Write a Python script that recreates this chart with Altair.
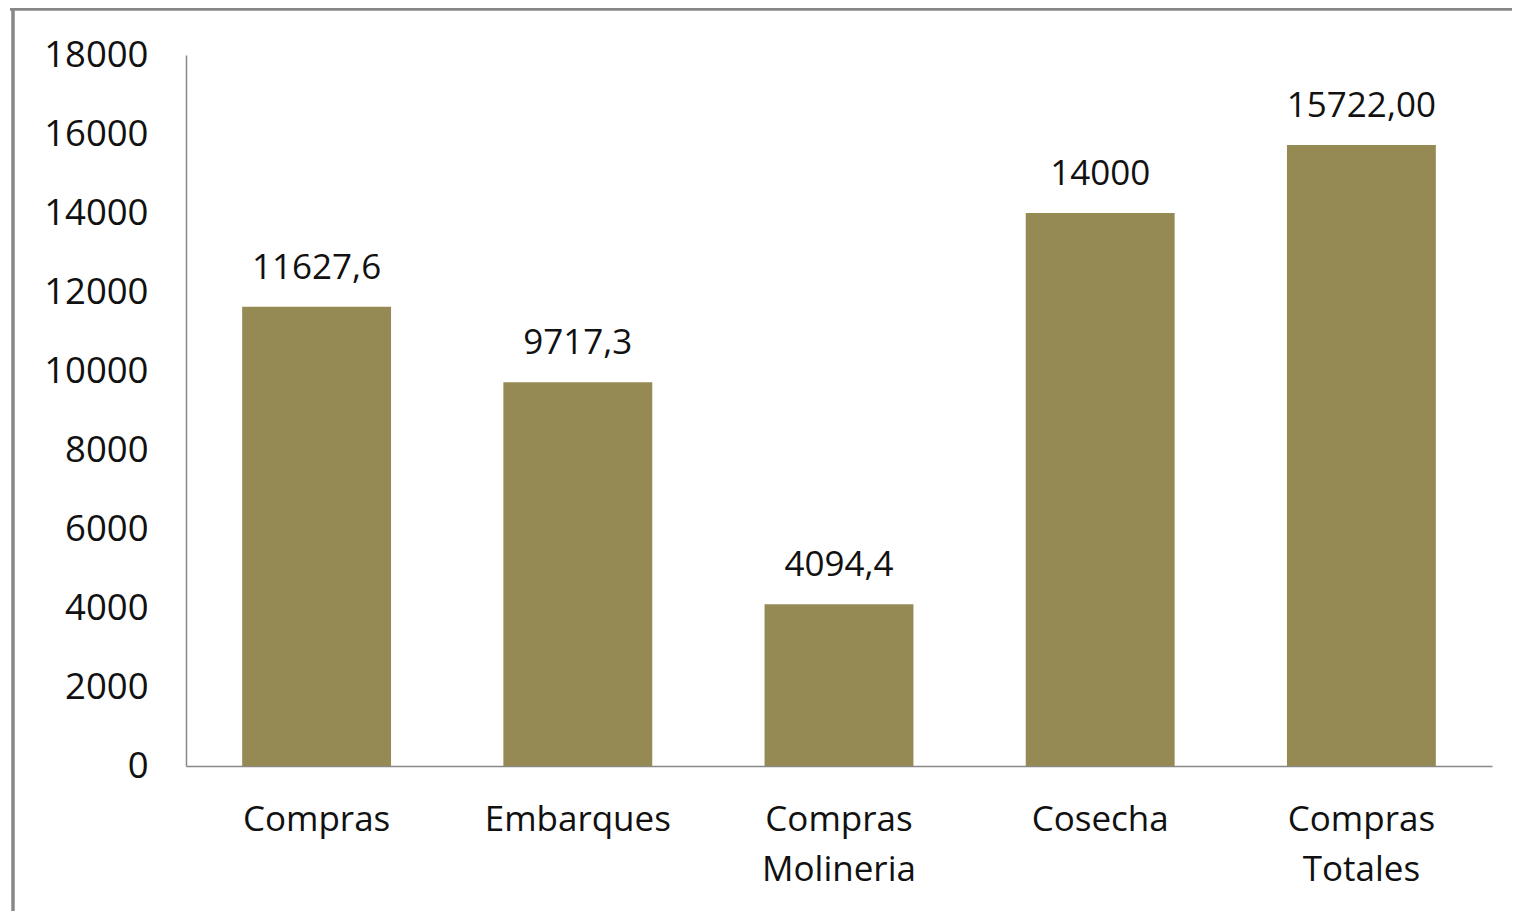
import altair as alt
import pandas as pd

categories = ["Compras", "Embarques", "Compras\nMolineria", "Cosecha", "Compras\nTotales"]
values = [11627.6, 9717.3, 4094.4, 14000, 15722.0]
value_labels = ["11627,6", "9717,3", "4094,4", "14000", "15722,00"]
y_ticks = [0, 2000, 4000, 6000, 8000, 10000, 12000, 14000, 16000, 18000]

df = pd.DataFrame({"cat": categories, "val": values, "lab": value_labels})

FONT = "Open Sans"
TEXT = "#111111"
BAR = "#968A54"
GRAY = "#888888"

x_enc = alt.X(
    "cat:N", sort=categories, title=None,
    scale=alt.Scale(paddingInner=0.43, paddingOuter=0.215),
    axis=alt.Axis(labelAngle=0, labelFont=FONT, labelFontSize=35, labelColor=TEXT,
                  labelExpr="split(datum.label, '\\n')", labelLineHeight=50,
                  labelPadding=36, labelLimit=400, ticks=False, domainColor=GRAY,
                  domainWidth=1.5, labelBaseline="top"),
)
y_enc = alt.Y(
    "val:Q", title=None,
    scale=alt.Scale(domain=[0, 18000], nice=False),
    axis=alt.Axis(values=y_ticks, format="d", labelFont=FONT, labelFontSize=36.5,
                  labelColor=TEXT, ticks=False, grid=False, domainColor=GRAY,
                  domainWidth=1.5, labelPadding=38),
)

bars = alt.Chart(df).mark_bar(color=BAR).encode(x=x_enc, y=y_enc)
texts = alt.Chart(df).mark_text(font=FONT, fontSize=35, color=TEXT, baseline="alphabetic", dy=-28).encode(
    x=alt.X("cat:N", sort=categories), y="val:Q", text="lab:N"
)

frame_df = pd.DataFrame({"k": [0]})
top_line = alt.Chart(frame_df).mark_rule(color=GRAY, strokeWidth=3.5).encode(
    x=alt.value(-176), x2=alt.value(1400), y=alt.value(-46)
)
left_line = alt.Chart(frame_df).mark_rule(color=GRAY, strokeWidth=3.5).encode(
    x=alt.value(-173), y=alt.value(-48), y2=alt.value(900)
)

chart = alt.layer(bars, texts, top_line, left_line).properties(
    width=1306, height=711,
    padding={"left": 178, "top": 47, "right": 20, "bottom": 145},
    autosize=alt.AutoSizeParams(type="none"),
).configure_view(stroke=None)

chart.save("out.html", embed_options={"renderer": "svg", "actions": False})
